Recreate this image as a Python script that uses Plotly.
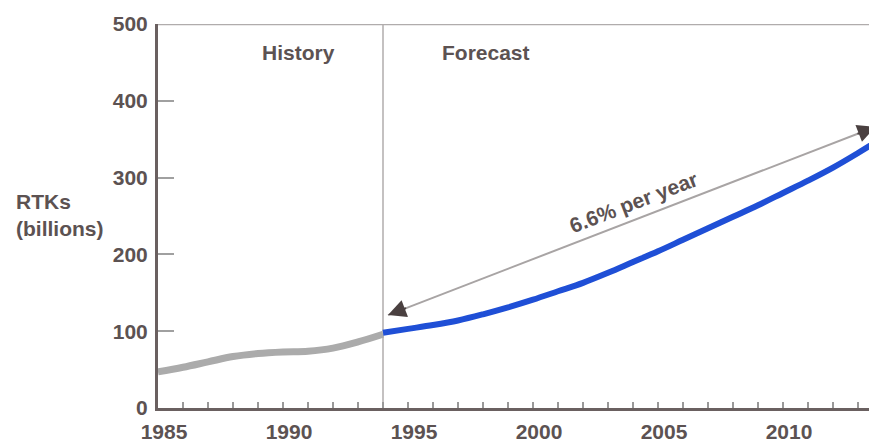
import plotly.graph_objects as go

# ---- data ----
hist_years = [1985, 1986, 1987, 1988, 1989, 1990, 1991, 1992, 1993, 1994]
hist_rtk = [47, 53, 60, 67, 71, 73, 74, 78, 86, 96]

fc_years = [1994, 1995, 1996, 1997, 1998, 1999, 2000, 2001, 2002, 2003, 2004,
            2005, 2006, 2007, 2008, 2009, 2010, 2011, 2012, 2013, 2014]
fc_rtk = [98, 103, 108, 114, 122, 131, 141, 152, 163, 176, 190,
          204, 219, 234, 249, 264, 280, 296, 313, 332, 352]

y_ticks = [0, 100, 200, 300, 400, 500]
x_ticks = [1985, 1990, 1995, 2000, 2005, 2010]

divider_year = 1994
growth_label = "6.6% per year"
arrow_start = (1994.2, 121)
arrow_end = (2013.7, 366)

TXT = "#5c5252"
AXIS = "#6a6060"
LIGHT = "#b0acac"

fig = go.Figure()
fig.add_trace(go.Scatter(x=hist_years, y=hist_rtk, mode="lines",
                         line=dict(color="#ababab", width=7, shape="spline"),
                         hoverinfo="skip", showlegend=False))
fig.add_trace(go.Scatter(x=fc_years, y=fc_rtk, mode="lines",
                         line=dict(color="#1f4fd6", width=6, shape="spline"),
                         hoverinfo="skip", showlegend=False))

font_b = dict(family="Liberation Sans, Arial, sans-serif", size=21, color=TXT, weight="bold")

# top border and divider
fig.add_shape(type="line", xref="paper", yref="y", x0=0, x1=1, y0=500, y1=500,
              line=dict(color=LIGHT, width=2.5), layer="below")
fig.add_shape(type="line", xref="x", yref="y", x0=divider_year, x1=divider_year, y0=0, y1=500,
              line=dict(color=LIGHT, width=1.5), layer="below")

# growth arrow: gray line with dark heads
fig.add_shape(type="line", xref="x", yref="y",
              x0=arrow_start[0], y0=arrow_start[1], x1=arrow_end[0], y1=arrow_end[1],
              line=dict(color="#a8a4a4", width=2))
dx = (arrow_end[0] - arrow_start[0]) * 0.04
dy = (arrow_end[1] - arrow_start[1]) * 0.04
for (tx, ty), sgn in [(arrow_end, -1), (arrow_start, 1)]:
    fig.add_annotation(x=tx, y=ty, ax=tx + sgn * dx, ay=ty + sgn * dy,
                       xref="x", yref="y", axref="x", ayref="y", text="",
                       showarrow=True, arrowhead=2, arrowsize=1.8, arrowwidth=2,
                       arrowcolor="#4a4040")

fig.add_annotation(x=2004, y=267, xref="x", yref="y", text=growth_label, showarrow=False,
                   textangle=-21, font=font_b)
fig.add_annotation(x=1990.6, y=463, xref="x", yref="y", text="History", showarrow=False,
                   font=font_b)
fig.add_annotation(x=1998.1, y=463, xref="x", yref="y", text="Forecast", showarrow=False,
                   font=font_b)
fig.add_annotation(x=0, y=251, xref="paper", yref="y", xshift=-144, text="RTKs<br>(billions)",
                   showarrow=False, xanchor="left", yanchor="middle", align="left",
                   font=font_b)

# page body has an 8px margin, so the figure is sized to fill the rest of the window
fig.update_layout(
    width=869, height=437,
    margin=dict(l=150, r=0, t=16, b=37, autoexpand=False),
    paper_bgcolor="white", plot_bgcolor="white",
    font=font_b,
    xaxis=dict(range=[1985, 2013.76], tickvals=x_ticks, ticktext=[str(v) for v in x_ticks],
               ticks="inside", ticklen=6, tickwidth=1.5, tickcolor="#999",
               minor=dict(dtick=1, tick0=1985, ticks="inside", ticklen=6, tickwidth=1.5,
                          tickcolor="#999", showgrid=False),
               showline=True, linecolor=AXIS, linewidth=3, showgrid=False, zeroline=False,
               tickfont=font_b, ticklabelstandoff=3, ticklabelshift=6,
               fixedrange=True, automargin=False),
    yaxis=dict(range=[0, 500], tickvals=y_ticks, ticks="inside", ticklen=16, tickwidth=2,
               tickcolor="#a0a0a0", showline=True, linecolor=AXIS, linewidth=3,
               showgrid=False, zeroline=False, tickfont=font_b, ticklabelstandoff=3,
               fixedrange=True, automargin=False),
)

fig.write_html("out.html")
